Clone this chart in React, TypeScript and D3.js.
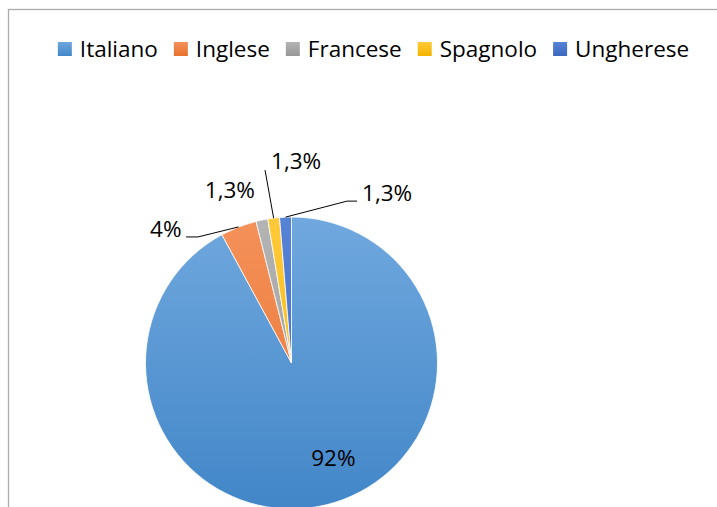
import React, { useEffect, useRef } from "react";
import * as d3 from "d3";

const categories = ["Italiano", "Inglese", "Francese", "Spagnolo", "Ungherese"];
const values = [92, 4, 1.3, 1.3, 1.3];
const valueLabels = ["92%", "4%", "1,3%", "1,3%", "1,3%"];

const colorTop = ["#70a8de", "#f4915a", "#b4b4b4", "#ffc93a", "#5683d6"];
const colorBottom = ["#4286c8", "#e8722e", "#979797", "#f2b500", "#3b67be"];

// label placement relative to the outer-arc midpoint of each slice
const labelPlacement: { dx: number; dy: number; anchor: string; leader: [number, number][] | null }[] = [
  { dx: 6, dy: -38.5, anchor: "middle", leader: null },
  { dx: -57, dy: 10, anchor: "end", leader: [[0, 0], [-40.5, 10], [-52.5, 10]] },
  { dx: -32, dy: -22, anchor: "middle", leader: null },
  { dx: -2.6, dy: -49, anchor: "start", leader: [[0, 0], [-8.6, -48]] },
  { dx: 76.5, dy: -16, anchor: "start", leader: [[0, 0], [61.5, -16], [71.5, -16]] },
];

const W = 717;
const H = 507;
const cx = 291.5;
const cy = 363;
const R = 146;
const FONT = "'Open Sans', 'Noto Sans', sans-serif";
const FS = 22.5;

export default function App() {
  const ref = useRef<SVGSVGElement | null>(null);

  useEffect(() => {
    const svg = d3.select(ref.current);
    svg.selectAll("*").remove();

    const defs = svg.append("defs");
    categories.forEach((_, i) => {
      const g = defs
        .append("linearGradient")
        .attr("id", `pg${i}`)
        .attr("gradientUnits", "userSpaceOnUse")
        .attr("x1", 0)
        .attr("y1", -R)
        .attr("x2", 0)
        .attr("y2", R);
      g.append("stop").attr("offset", "0%").attr("stop-color", colorTop[i]);
      g.append("stop").attr("offset", "100%").attr("stop-color", colorBottom[i]);
      const l = defs
        .append("linearGradient")
        .attr("id", `lg${i}`)
        .attr("x1", 0)
        .attr("y1", 0)
        .attr("x2", 0)
        .attr("y2", 1);
      l.append("stop").attr("offset", "0%").attr("stop-color", colorTop[i]);
      l.append("stop").attr("offset", "100%").attr("stop-color", colorBottom[i]);
    });

    // frame
    svg
      .append("rect")
      .attr("x", 8.5)
      .attr("y", 9.5)
      .attr("width", W + 20)
      .attr("height", H + 20)
      .attr("fill", "none")
      .attr("stroke", "#ababab")
      .attr("stroke-width", 1.3);

    // legend
    const legend = svg.append("g");
    const sq = 14;
    const gapText = 8;
    const gapItem = 16;
    const legendY = 56.5;
    let x = 0;
    categories.forEach((c, i) => {
      const t = legend
        .append("text")
        .attr("font-family", FONT)
        .attr("font-size", FS)
        .attr("fill", "#000")
        .attr("y", legendY)
        .text(c);
      const w = (t.node() as SVGTextElement).getComputedTextLength();
      t.attr("x", x + sq + gapText);
      legend
        .append("rect")
        .attr("x", x)
        .attr("y", 42)
        .attr("width", sq)
        .attr("height", sq)
        .attr("fill", `url(#lg${i})`);
      x += sq + gapText + w + gapItem;
    });
    const total = x - gapItem;
    legend.attr("transform", `translate(${373.5 - total / 2},0)`);

    // pie
    const pie = d3
      .pie<number>()
      .sort(null)
      .value((d) => d);
    const arcs = pie(values);
    const arc = d3.arc<d3.PieArcDatum<number>>().innerRadius(0).outerRadius(R);
    const g = svg.append("g").attr("transform", `translate(${cx},${cy})`);
    g.selectAll("path")
      .data(arcs)
      .join("path")
      .attr("d", arc as any)
      .attr("fill", (_, i) => `url(#pg${i})`)
      .attr("stroke", "#ffffff")
      .attr("stroke-width", 0.8);

    // labels
    arcs.forEach((a, i) => {
      const mid = (a.startAngle + a.endAngle) / 2;
      const ox = Math.sin(mid) * R;
      const oy = -Math.cos(mid) * R;
      const p = labelPlacement[i];
      if (p.leader) {
        const line = d3.line();
        g.append("path")
          .attr("d", line(p.leader.map(([dx, dy]) => [ox + dx, oy + dy]))!)
          .attr("fill", "none")
          .attr("stroke", "#000")
          .attr("stroke-width", 1);
      }
      g.append("text")
        .attr("x", ox + p.dx)
        .attr("y", oy + p.dy)
        .attr("text-anchor", p.anchor)
        .attr("font-family", FONT)
        .attr("font-size", FS)
        .attr("fill", "#000")
        .text(valueLabels[i]);
    });
  }, []);

  return (
    <svg
      ref={ref}
      width={W}
      height={H}
      style={{ position: "absolute", left: 0, top: 0, display: "block", background: "#fff" }}
    />
  );
}
